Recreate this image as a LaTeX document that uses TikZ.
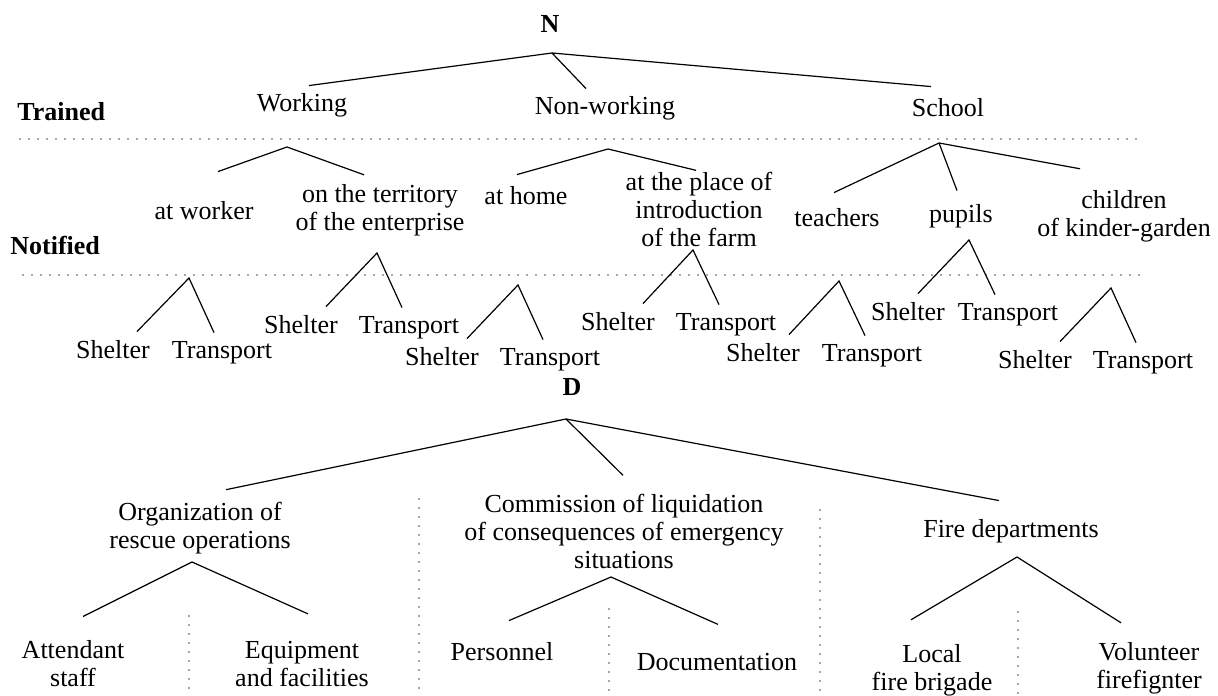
\documentclass[tikz,border=0pt]{standalone}
\usepackage{fontspec}
\setmainfont{Liberation Serif}

\tikzset{
	lbl/.style={font=\fontsize{13}{14}\selectfont, align=center, inner sep=4pt},
	head/.style={lbl, font=\fontsize{13}{14}\selectfont\bfseries},
	branch/.style={line width=0.6pt},
	sep/.style={line width=0.9pt, line cap=round, dash pattern=on 0pt off 4.5pt, black!70},
}

\begin{document}
\begin{tikzpicture}[x=0.5pt, y=-0.5pt]
		\useasboundingbox (0,0) rectangle (1218,695);
		\node[head, anchor=base] (N) at (550,33) {N};
		\node[head, anchor=base west, inner sep=0pt] (trn) at (17,121) {Trained};
		\node[head, anchor=base west, inner sep=0pt] (ntf) at (10,254) {Notified};
		\draw[sep] (20,139) -- (1144,139);
		\draw[sep] (23,275) -- (1145,275);
		\node[lbl, anchor=base] (wk) at (302,112) {Working};
		\node[lbl, anchor=base] (nw) at (605,115) {Non-working};
		\node[lbl, anchor=base] (sch) at (948,117) {School};
		\coordinate (nA) at (552,53);
		\draw[branch] ([shift={(7,0)}]wk.north) -- (nA) -- ([shift={(-17,-4)}]sch.north);
		\draw[branch] (nA) -- ([shift={(-19,0)}]nw.north);
		\node[lbl, anchor=base] (atw) at (204,220) {at worker};
		\node[lbl] (terr) at (380,210) {on the territory\\of the enterprise};
		\node[lbl, anchor=base] (home) at (526,205) {at home};
		\node[lbl] (farm) at (699,209) {at the place of\\introduction\\of the farm};
		\node[lbl, anchor=base] (teach) at (837,227) {teachers};
		\node[lbl, anchor=base] (pup) at (961,222) {pupils};
		\node[lbl] (kind) at (1124,216) {children\\of kinder-garden};
		\coordinate (wA) at (287,147);
		\coordinate (hA) at (608,149);
		\coordinate (sA) at (939,143);
		\draw[branch] ([shift={(14,-22)}]atw.north) -- (wA) -- ([shift={(-16,-1)}]terr.north);
		\draw[branch] ([shift={(-9,-4)}]home.north) -- (hA) -- ([shift={(-3,7)}]farm.north);
		\draw[branch] ([shift={(-3,-8)}]teach.north) -- (sA) -- ([shift={(-44,-13)}]kind.north);
		\draw[branch] (sA) -- ([shift={(-4,-5)}]pup.north);
		\foreach \i/\xs/\xt/\yb/\xa/\ls/\rs in {1/113/222/358/189/24/-8, 2/301/409/333/377/25/-7, 3/442/550/365/518/25/-7, 4/618/726/330/693/25/-7, 5/763/872/361/839/26/-7, 6/908/1008/320/969/10/-13, 7/1035/1143/368/1111/25/-7}{
			\node[lbl, anchor=base] (sh\i) at (\xs,\yb) {Shelter};
			\node[lbl, anchor=base] (tp\i) at (\xt,\yb) {Transport};
			\coordinate (pA\i) at (\xa,\yb-80);
			\draw[branch] ([shift={(\ls,0)}]sh\i.north) -- (pA\i) -- ([shift={(\rs,0)}]tp\i.north);
		}
		\node[head, anchor=base] (D) at (572,395) {D};
		\node[lbl] (org) at (200,528) {Organization of\\rescue operations};
		\node[lbl] (comm) at (624,531) {Commission of liquidation\\of consequences of emergency\\situations};
		\node[lbl, anchor=base] (fire) at (1011,537) {Fire departments};
		\coordinate (dA) at (566,419);
		\draw[branch] ([shift={(26,-4)}]org.north) -- (dA) -- ([shift={(-12,-10)}]fire.north);
		\draw[branch] (dA) -- ([shift={(-1,-10)}]comm.north);
		\node[lbl] (att) at (73,664) {Attendant\\staff};
		\node[lbl] (equip) at (302,664) {Equipment\\and facilities};
		\node[lbl, anchor=base] (pers) at (502,660) {Personnel};
		\node[lbl, anchor=base] (doc) at (717,670) {Documentation};
		\node[lbl] (local) at (932,670) {Local\\fire brigade};
		\node[lbl] (vol) at (1149,668) {Volunteer\\firefignter};
		\coordinate (oA) at (192,562);
		\coordinate (cA) at (611,577);
		\coordinate (fA) at (1017,557);
		\draw[branch] ([shift={(10,-16)}]att.north) -- (oA) -- ([shift={(6,-19)}]equip.north);
		\draw[branch] ([shift={(7,-13)}]pers.north) -- (cA) -- ([shift={(1,-20)}]doc.north);
		\draw[branch] ([shift={(-21,-16)}]local.north) -- (fA) -- ([shift={(-28,-11)}]vol.north);
		\draw[sep] (189,616) -- (189,695);
		\draw[sep] (419,499) -- (419,695);
		\draw[sep] (609,609) -- (609,695);
		\draw[sep] (820,510) -- (820,695);
		\draw[sep] (1018,612) -- (1018,695);
	\end{tikzpicture}
\end{document}
